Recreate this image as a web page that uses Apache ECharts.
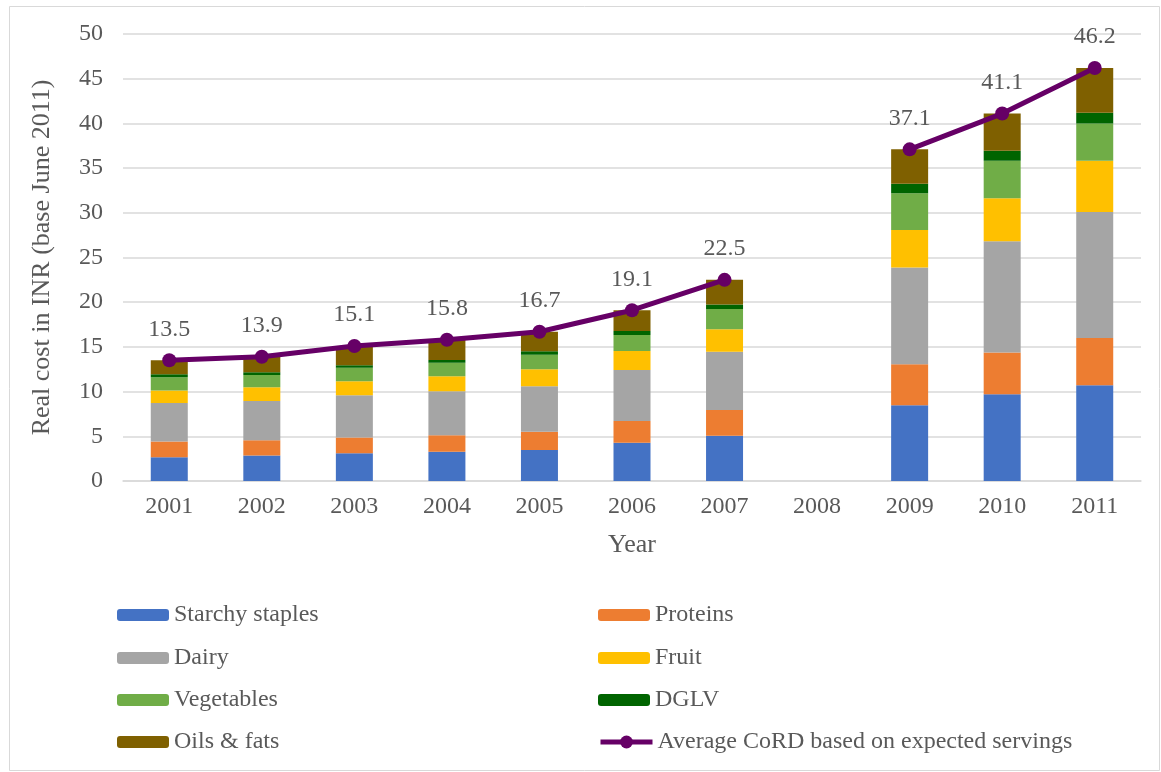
<!DOCTYPE html>
<html>
<head>
<meta charset="utf-8">
<script src="https://cdn.jsdelivr.net/npm/echarts@6/dist/echarts.min.js"></script>
<style>
  html, body { margin: 0; padding: 0; background: #ffffff; }
  #chart { width: 1161px; height: 772px; }
</style>
</head>
<body>
<div id="chart"></div>
<script>
// Years on the category axis (2008 has no data)
const years = ['2001', '2002', '2003', '2004', '2005', '2006', '2007', '2008', '2009', '2010', '2011'];

// Food group cost components, real INR (base June 2011)
const starchyStaples = [2.66, 2.85, 3.11, 3.26, 3.48, 4.27, 5.06, null, 8.48, 9.71, 10.72];
const proteins       = [1.76, 1.72, 1.76, 1.87, 2.02, 2.43, 2.88, null, 4.59, 4.67, 5.27];
const dairy          = [4.31, 4.38, 4.72, 4.91, 5.10, 5.73, 6.52, null, 10.80, 12.44, 14.11];
const fruit          = [1.38, 1.54, 1.57, 1.68, 1.90, 2.10, 2.51, null, 4.22, 4.82, 5.72];
const vegetables     = [1.50, 1.36, 1.50, 1.50, 1.62, 1.80, 2.28, null, 4.11, 4.18, 4.18];
const dglv           = [0.33, 0.32, 0.30, 0.31, 0.38, 0.45, 0.49, null, 1.05, 1.12, 1.20];
const oilsFats       = [1.56, 1.73, 2.14, 2.27, 2.20, 2.32, 2.76, null, 3.85, 4.16, 5.00];

// Average cost of a recommended diet
const averageCoRD    = [13.5, 13.9, 15.1, 15.8, 16.7, 19.1, 22.5, null, 37.1, 41.1, 46.2];

// Value axis ticks
const yMin = 0, yMax = 50, yStep = 5;

const textColor = '#595959';
const fontFamily = '"Liberation Serif", "Times New Roman", serif';
const lineColor = '#660066';

const barSeries = [
  { name: 'Starchy staples', data: starchyStaples, color: '#4472C4' },
  { name: 'Proteins',        data: proteins,       color: '#ED7D31' },
  { name: 'Dairy',           data: dairy,          color: '#A5A5A5' },
  { name: 'Fruit',           data: fruit,          color: '#FFC000' },
  { name: 'Vegetables',      data: vegetables,     color: '#70AD47' },
  { name: 'DGLV',            data: dglv,           color: '#006400' },
  { name: 'Oils & fats',     data: oilsFats,       color: '#7F6000' }
];
const lineName = 'Average CoRD based on expected servings';

// Legend laid out as two columns, four rows
const legendLayout = [
  { name: 'Starchy staples', left: 117, top: 603 },
  { name: 'Proteins',        left: 598, top: 603 },
  { name: 'Dairy',           left: 117, top: 646 },
  { name: 'Fruit',           left: 598, top: 646 },
  { name: 'Vegetables',      left: 117, top: 688 },
  { name: 'DGLV',            left: 598, top: 688 },
  { name: 'Oils & fats',     left: 117, top: 730 },
  { name: lineName,          left: 598, top: 730 }
];

const chart = echarts.init(document.getElementById('chart'), null, { renderer: 'canvas' });

const series = barSeries.map(s => ({
  name: s.name,
  type: 'bar',
  stack: 'cost',
  data: s.data,
  barWidth: 37,
  itemStyle: { color: s.color },
  emphasis: { disabled: true }
}));

series.push({
  name: lineName,
  type: 'line',
  data: averageCoRD,
  symbol: 'circle',
  symbolSize: 14,
  connectNulls: false,
  z: 5,
  lineStyle: { color: lineColor, width: 5 },
  itemStyle: { color: lineColor },
  label: {
    show: true,
    position: 'top',
    distance: 12,
    color: textColor,
    fontFamily: fontFamily,
    fontSize: 24,
    formatter: p => p.value == null ? '' : Number(p.value).toFixed(1)
  },
  emphasis: { disabled: true }
});

chart.setOption({
  animation: false,
  backgroundColor: '#ffffff',
  textStyle: { fontFamily: fontFamily, color: textColor },
  graphic: [{
    type: 'rect',
    left: 7, top: 4,
    shape: { width: 1150, height: 764 },
    style: { fill: 'none', stroke: '#d9d9d9', lineWidth: 1 },
    silent: true
  }],
  grid: { left: 123, right: 20, top: 34, bottom: 291 },
  legend: legendLayout.map(l => ({
    data: [l.name],
    left: l.left,
    top: l.top,
    padding: 0,
    itemWidth: 52,
    itemHeight: l.name === lineName ? 16 : 12,
    itemGap: 0,
    selectedMode: false,
    lineStyle: { width: 5 },
    textStyle: { fontFamily: fontFamily, fontSize: 24, color: textColor }
  })),
  xAxis: {
    type: 'category',
    data: years,
    name: 'Year',
    nameLocation: 'middle',
    nameGap: 51,
    nameTextStyle: { fontFamily: fontFamily, fontSize: 26, color: textColor },
    axisLine: { show: true, lineStyle: { color: '#d9d9d9', width: 1.5 } },
    axisTick: { show: false },
    axisLabel: { fontFamily: fontFamily, fontSize: 24, color: textColor, margin: 14 }
  },
  yAxis: {
    type: 'value',
    min: yMin,
    max: yMax,
    interval: yStep,
    name: 'Real cost in INR (base June 2011)',
    nameLocation: 'middle',
    nameGap: 68,
    nameRotate: 90,
    nameTextStyle: { fontFamily: fontFamily, fontSize: 26, color: textColor },
    axisLine: { show: false },
    axisTick: { show: false },
    axisLabel: { fontFamily: fontFamily, fontSize: 24, color: textColor, margin: 20 },
    splitLine: { lineStyle: { color: '#d9d9d9', width: 1.5 } }
  },
  series: series
});
</script>
</body>
</html>
